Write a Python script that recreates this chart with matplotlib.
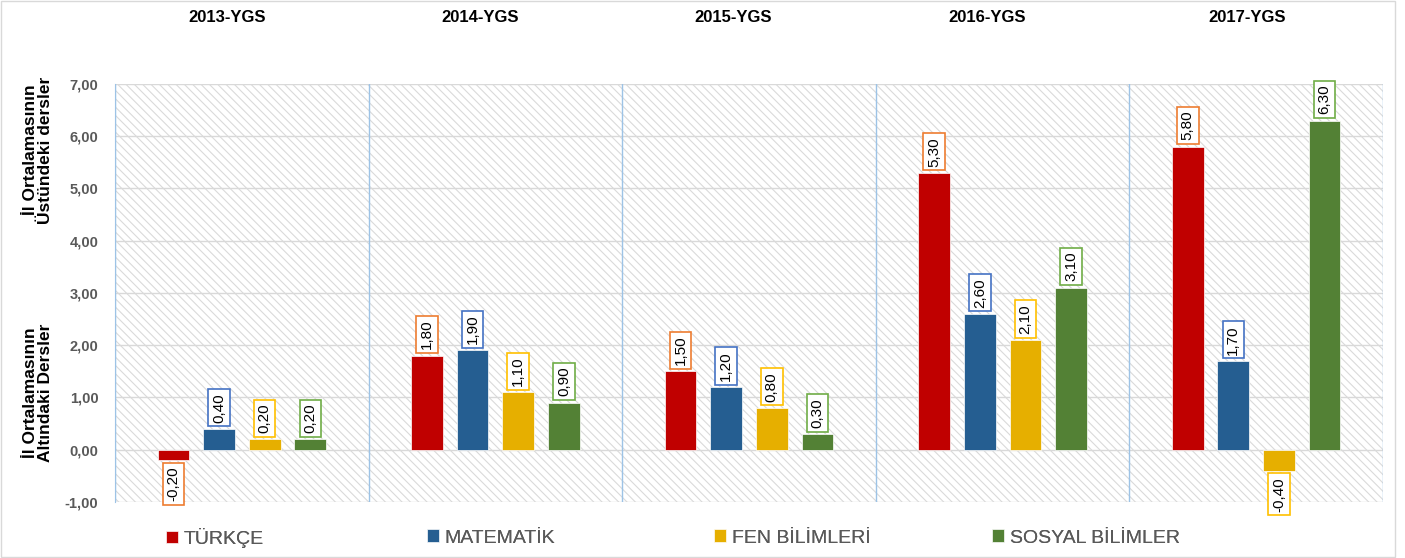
import matplotlib.pyplot as plt
import numpy as np

years = ["2013-YGS", "2014-YGS", "2015-YGS", "2016-YGS", "2017-YGS"]
dersler = ["TÜRKÇE", "MATEMATİK", "FEN BİLİMLERİ", "SOSYAL BİLİMLER"]
turkce = [-0.20, 1.80, 1.50, 5.30, 5.80]
matematik = [0.40, 1.90, 1.20, 2.60, 1.70]
fen = [0.20, 1.10, 0.80, 2.10, -0.40]
sosyal = [0.20, 0.90, 0.30, 3.10, 6.30]
yticks = [-1, 0, 1, 2, 3, 4, 5, 6, 7]

renkler = ["#C00000", "#255E91", "#E6AF00", "#538135"]
kenar = ["#ED7D31", "#4472C4", "#FFC000", "#70AD47"]

plt.rcParams['font.family'] = ['Liberation Sans', 'DejaVu Sans']
plt.rcParams['hatch.linewidth'] = 0.8
fig = plt.figure(figsize=(14.05, 5.58), dpi=100)
ax = fig.add_axes([0.0819, 0.1004, 0.9024, 0.7491])

ax.set_xlim(0, len(years))
ax.set_ylim(-1, 7)
ax.patch.set_facecolor("white")
ax.patch.set_hatch("\\\\\\\\")
ax.patch.set_edgecolor("#DADADA")

for y in yticks:
    ax.axhline(y, color="#D9D9D9", lw=1, zorder=1)
for i in range(len(years) + 1):
    ax.axvline(i, color="#9DC3E6", lw=1, zorder=1)

seriler = [turkce, matematik, fen, sosyal]
ofset = [-0.27, -0.09, 0.09, 0.27]
gen = 0.125
x = np.arange(len(years)) + 0.5
cubuklar = []
for k, seri in enumerate(seriler):
    xs = x + ofset[k]
    b = ax.bar(xs, seri, gen, color=renkler[k], edgecolor="white", lw=0.5,
               zorder=3, label=dersler[k])
    cubuklar.append(b)
    for xi, v in zip(xs, seri):
        metin = f"{v:.2f}".replace(".", ",")
        if v >= 0:
            ax.text(xi, v + 0.12, metin, rotation=90, ha="center", va="bottom",
                    fontsize=11, zorder=4,
                    bbox=dict(boxstyle="square,pad=0.25", fc="white",
                              ec=kenar[k], lw=1.2))
        else:
            ax.text(xi, v - 0.12, metin, rotation=90, ha="center", va="top",
                    fontsize=11, zorder=4,
                    bbox=dict(boxstyle="square,pad=0.25", fc="white",
                              ec=kenar[k], lw=1.2))

ax.set_yticks(yticks)
ax.set_yticklabels([f"{t:.2f}".replace(".", ",") for t in yticks],
                   fontsize=10.5, fontweight="bold", color="#595959")
ax.set_xticks([])
ax.tick_params(axis="y", length=0, pad=12)
for s in ["top", "right", "bottom"]:
    ax.spines[s].set_visible(False)
ax.spines["left"].set_color("#9DC3E6")

# yil basliklari
baslik_x = [227, 480, 733, 987, 1247]
for bx, yil in zip(baslik_x, years):
    fig.text(bx / 1405, 1 - 17 / 558, yil,
             ha="center", va="center", fontsize=12, fontweight="bold")

fig.text(0.027, 1 - 150 / 558, "İl Ortalamasının\nÜstündeki dersler",
         rotation=90, ha="center", va="center", fontsize=12.5, fontweight="bold",
         linespacing=1.05)
fig.text(0.027, 1 - 393 / 558, "İl Ortalamasının\nAltındaki Dersler",
         rotation=90, ha="center", va="center", fontsize=12.5, fontweight="bold",
         linespacing=1.05)

# lejant, her kalem ayri
lej_x = [166, 427, 714, 992]
for lx, b, ad in zip(lej_x, cubuklar, dersler):
    leg = fig.legend(handles=[b], labels=[ad], loc="center left",
                     bbox_to_anchor=(lx / 1405, 1 - 538 / 558), frameon=False,
                     fontsize=14, handlelength=0.6, handleheight=0.6,
                     handletextpad=0.3, borderpad=0, borderaxespad=0)
    for t in leg.get_texts():
        t.set_color("#595959")
    fig.add_artist(leg)

fig.patches.append(plt.Rectangle((0.001, 0.002), 0.992, 0.996, transform=fig.transFigure,
                                 fill=False, ec="#D9D9D9", lw=1))

fig.savefig("out.png", dpi=100)
